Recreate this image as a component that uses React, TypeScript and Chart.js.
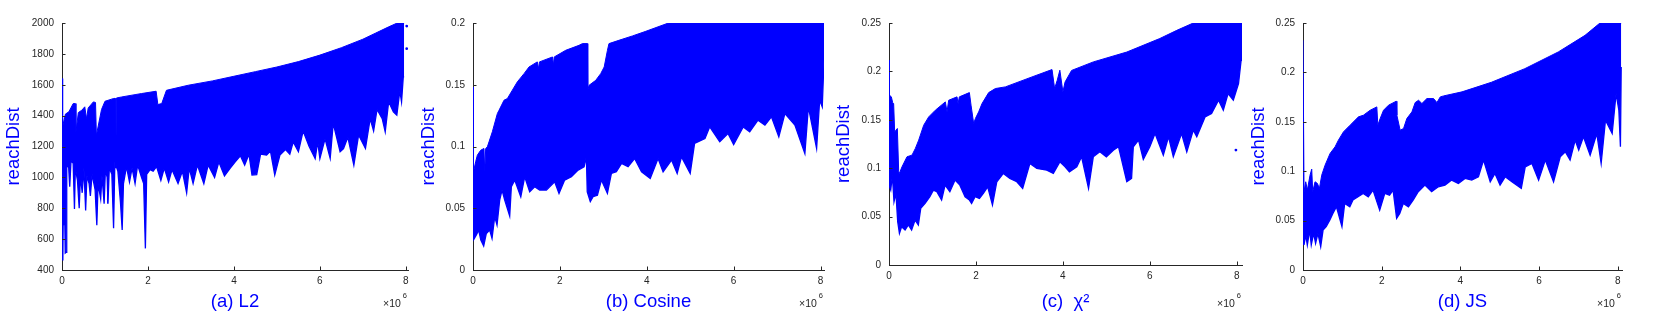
import React, { useEffect, useRef } from 'react';
import { Chart, registerables } from 'chart.js';

Chart.register(...registerables);

const BLUE = '#0000ff';
const INK = '#262626';
const FONT = '"Liberation Sans", Arial, Helvetica, sans-serif';

// x positions are in units of 10^6
const xTicks = [0, 2, 4, 6, 8];
const l2YTicks = [400, 600, 800, 1000, 1200, 1400, 1600, 1800, 2000];
const cosYTicks = [0, 0.05, 0.1, 0.15, 0.2];
const chiYTicks = [0, 0.05, 0.1, 0.15, 0.2, 0.25];
const jsYTicks = [0, 0.05, 0.1, 0.15, 0.2, 0.25];

const l2Upper: [number, number][] = [
  [0, 1640], [0.01, 1640], [0.02, 1330], [0.08, 1410], [0.16, 1425], [0.26, 1478], [0.31, 1478], [0.325, 1295],
  [0.38, 1420], [0.46, 1435], [0.53, 1457], [0.57, 1380], [0.61, 1450], [0.73, 1489], [0.78, 1485], [0.8, 1273],
  [0.92, 1440], [1.0, 1493], [1.19, 1510], [1.235, 1512], [1.25, 1060], [1.265, 1514], [1.39, 1521], [1.7, 1536],
  [1.85, 1543], [2.19, 1558], [2.23, 1472],
  [2.32, 1478], [2.43, 1564], [2.94, 1597], [3.5, 1625], [4.0, 1655], [4.5, 1685], [5, 1715], [5.5, 1750],
  [6, 1792], [6.5, 1840], [7, 1895], [7.3, 1935], [7.6, 1975], [7.8, 2000], [7.96, 2000],
];
const l2Lower: [number, number][] = [
  [0, 465], [0.02, 470], [0.03, 800], [0.045, 690], [0.06, 820], [0.075, 510], [0.095, 515], [0.11, 1060],
  [0.15, 1090], [0.18, 940], [0.21, 1110], [0.26, 1090], [0.29, 795], [0.31, 1060], [0.36, 980], [0.4, 800],
  [0.43, 1010], [0.47, 900], [0.51, 1060], [0.55, 785], [0.58, 1010], [0.63, 960], [0.66, 880], [0.7, 1020],
  [0.77, 920], [0.81, 690], [0.84, 960], [0.9, 860], [0.93, 1010], [0.98, 830], [1.01, 1050], [1.05, 1000],
  [1.07, 830], [1.1, 1060], [1.16, 1020], [1.2, 670], [1.23, 1100], [1.3, 1040], [1.36, 840], [1.4, 660],
  [1.43, 960], [1.5, 1070], [1.57, 970], [1.63, 1060], [1.7, 960], [1.76, 1080], [1.85, 1000], [1.9, 960],
  [1.94, 540], [1.97, 1020], [2.05, 1050], [2.12, 1040], [2.2, 1070], [2.3, 980], [2.38, 1060], [2.48, 970],
  [2.56, 1050], [2.7, 960], [2.8, 1040], [2.9, 900], [2.96, 1060], [3.05, 960], [3.15, 1080], [3.3, 960],
  [3.4, 1080], [3.55, 1000], [3.65, 1100], [3.78, 1010], [3.91, 1058], [4.03, 1100], [4.15, 1140], [4.25, 1080],
  [4.35, 1150], [4.42, 1015], [4.53, 1018], [4.62, 1150], [4.76, 1144], [4.85, 1170], [4.95, 1015], [5.07, 1144],
  [5.2, 1180], [5.3, 1150], [5.38, 1230], [5.5, 1166], [5.61, 1300], [5.75, 1200], [5.89, 1122], [5.95, 1230],
  [6.0, 1122], [6.12, 1250], [6.24, 1122], [6.31, 1350], [6.47, 1166], [6.55, 1187], [6.65, 1260], [6.79, 1079],
  [6.9, 1274], [7.06, 1187], [7.17, 1380], [7.25, 1300], [7.33, 1440], [7.45, 1380], [7.52, 1295], [7.6, 1490],
  [7.71, 1425], [7.79, 1403], [7.86, 1560], [7.9, 1489], [7.94, 1651], [7.96, 1651],
];
const l2Dots: [number, number][] = [[8.02, 1980], [8.02, 1834]];

const cosUpper: [number, number][] = [
  [0, 0.148], [0.008, 0.148], [0.015, 0.0795], [0.061, 0.0876], [0.1, 0.093], [0.177, 0.097], [0.253, 0.0984],
  [0.27, 0.0795], [0.292, 0.0984], [0.33, 0.0997], [0.369, 0.1038], [0.445, 0.1119], [0.561, 0.1267], [0.6, 0.1294],
  [0.714, 0.1375], [0.791, 0.1388], [0.906, 0.1456], [1.02, 0.1523], [1.175, 0.159], [1.29, 0.1644], [1.48, 0.1685],
  [1.51, 0.1631], [1.53, 0.1685], [1.83, 0.1725], [1.85, 0.1658], [1.87, 0.1725], [2.135, 0.1779], [2.44, 0.1819],
  [2.52, 0.1833], [2.634, 0.1833], [2.642, 0.1456], [2.673, 0.1496], [2.826, 0.1536], [2.94, 0.159], [3.02, 0.1644],
  [3.095, 0.1779], [3.13, 0.1833], [3.36, 0.186], [3.67, 0.1895], [3.98, 0.1933], [4.5, 0.2], [8.08, 0.2],
];
const cosLower: [number, number][] = [
  [0, 0.0526], [0.02, 0.0248], [0.077, 0.0283], [0.13, 0.0323], [0.18, 0.0243], [0.246, 0.0194], [0.307, 0.0296],
  [0.384, 0.0323], [0.438, 0.0256], [0.5, 0.0431], [0.553, 0.0364], [0.614, 0.0566], [0.668, 0.0647], [0.73, 0.0566],
  [0.845, 0.0437], [0.883, 0.0674], [0.96, 0.0728], [1.1, 0.0593], [1.19, 0.0755], [1.305, 0.0633], [1.42, 0.0674],
  [1.535, 0.0647], [1.69, 0.0647], [1.88, 0.0714], [1.98, 0.062], [2.11, 0.0728], [2.265, 0.0755], [2.42, 0.0809],
  [2.557, 0.0836], [2.61, 0.0916], [2.63, 0.0633], [2.7, 0.0553], [2.764, 0.0593], [2.864, 0.0606], [2.956, 0.0728],
  [3.094, 0.062], [3.186, 0.0782], [3.3, 0.0795], [3.42, 0.0863], [3.57, 0.0836], [3.72, 0.0903], [3.88, 0.0795],
  [4.08, 0.0741], [4.26, 0.0903], [4.376, 0.0795], [4.57, 0.089], [4.7, 0.0782], [4.8, 0.0916], [5.0, 0.0782],
  [5.1, 0.1024], [5.34, 0.1065], [5.45, 0.1159], [5.68, 0.1038], [5.87, 0.1105], [6.0, 0.1016], [6.22, 0.1159],
  [6.37, 0.1119], [6.56, 0.1213], [6.72, 0.1173], [6.87, 0.124], [7.04, 0.1078], [7.18, 0.1267], [7.41, 0.1173],
  [7.64, 0.0943], [7.72, 0.1321], [7.91, 0.0984], [7.98, 0.1375], [8.04, 0.1321], [8.08, 0.1698],
];
const cosDots: [number, number][] = [];

const chiUpper: [number, number][] = [
  [0, 0.2115], [0.008, 0.2115], [0.015, 0.1754], [0.054, 0.1737], [0.084, 0.1678], [0.107, 0.1668], [0.13, 0.1376],
  [0.161, 0.1393], [0.192, 0.141], [0.223, 0.0963], [0.238, 0.0946], [0.299, 0.1014], [0.414, 0.1118], [0.529, 0.1135],
  [0.606, 0.1204], [0.683, 0.129], [0.798, 0.1444], [0.913, 0.153], [1.066, 0.1599], [1.296, 0.1685], [1.335, 0.1582],
  [1.373, 0.1702], [1.565, 0.1737], [1.588, 0.1668], [1.619, 0.1737], [1.849, 0.1781], [1.887, 0.1651], [1.948, 0.1461],
  [1.987, 0.1513], [2.063, 0.1582], [2.14, 0.1668], [2.293, 0.1781], [2.447, 0.1823], [2.677, 0.184], [3.29, 0.1943],
  [3.75, 0.2019], [3.81, 0.1823], [3.87, 0.1909], [3.93, 0.2012], [4.0, 0.1788], [4.05, 0.1891], [4.2, 0.201],
  [4.7, 0.2098], [5.47, 0.22], [6.23, 0.234], [6.62, 0.2424], [7.0, 0.25], [8.12, 0.25],
];
const chiLower: [number, number][] = [
  [0, 0.0825], [0.04, 0.0774], [0.077, 0.0928], [0.115, 0.0653], [0.16, 0.0739], [0.2, 0.0447], [0.24, 0.0327],
  [0.29, 0.0395], [0.37, 0.0361], [0.445, 0.0413], [0.52, 0.0361], [0.6, 0.0464], [0.675, 0.0413], [0.73, 0.0585],
  [0.83, 0.0636], [0.94, 0.0705], [1.02, 0.0774], [1.1, 0.0757], [1.21, 0.0671], [1.29, 0.0825], [1.4, 0.0757],
  [1.52, 0.0877], [1.63, 0.0825], [1.75, 0.0705], [1.85, 0.0671], [1.9, 0.0636], [1.98, 0.0705], [2.08, 0.0688],
  [2.17, 0.0739], [2.27, 0.0808], [2.38, 0.0619], [2.48, 0.086], [2.63, 0.0946], [2.78, 0.0894], [2.94, 0.086],
  [3.075, 0.0791], [3.24, 0.1049], [3.4, 0.0997], [3.63, 0.098], [3.78, 0.0946], [3.93, 0.1066], [4.05, 0.1014],
  [4.15, 0.0963], [4.32, 0.1014], [4.43, 0.1118], [4.59, 0.0791], [4.7, 0.1118], [4.85, 0.1169], [5.0, 0.1118],
  [5.16, 0.1186], [5.28, 0.1221], [5.47, 0.086], [5.58, 0.0894], [5.62, 0.1221], [5.74, 0.129], [5.85, 0.109],
  [6.0, 0.1221], [6.12, 0.1358], [6.31, 0.1135], [6.43, 0.1324], [6.54, 0.1118], [6.73, 0.1358], [6.85, 0.1169],
  [7.0, 0.1393], [7.08, 0.1324], [7.27, 0.153], [7.42, 0.1565], [7.58, 0.1702], [7.69, 0.1599], [7.8, 0.1771],
  [7.92, 0.1702], [8.04, 0.1874], [8.1, 0.2115], [8.12, 0.2115],
];
const chiDots: [number, number][] = [[7.98, 0.1187]];

const jsUpper: [number, number][] = [
  [0, 0.2325], [0.008, 0.2325], [0.026, 0.0792], [0.069, 0.0893], [0.111, 0.0809], [0.179, 0.096], [0.222, 0.1021],
  [0.247, 0.0792], [0.306, 0.0893], [0.366, 0.0876], [0.417, 0.0825], [0.476, 0.096], [0.561, 0.1061], [0.688, 0.1179],
  [0.816, 0.1247], [0.9, 0.1314], [1.028, 0.1398], [1.198, 0.1466], [1.41, 0.155], [1.537, 0.1567], [1.707, 0.1617],
  [1.877, 0.1651], [1.902, 0.1466], [1.962, 0.1533], [2.047, 0.1617], [2.174, 0.1668], [2.37, 0.1708], [2.386, 0.1567],
  [2.47, 0.1415], [2.556, 0.1432], [2.64, 0.1533], [2.768, 0.16], [2.853, 0.1695], [2.938, 0.1718], [3.023, 0.1685],
  [3.15, 0.1735], [3.32, 0.1735], [3.405, 0.1695], [3.49, 0.1752], [3.575, 0.1762], [4.042, 0.1803], [4.79, 0.19],
  [5.64, 0.2038], [6.49, 0.2207], [7.17, 0.2375], [7.55, 0.25], [8.09, 0.25],
];
const jsLower: [number, number][] = [
  [0, 0.0303], [0.025, 0.0253], [0.07, 0.0354], [0.11, 0.0253], [0.17, 0.0404], [0.21, 0.0253], [0.27, 0.0371],
  [0.32, 0.027], [0.38, 0.0371], [0.45, 0.0236], [0.51, 0.0404], [0.59, 0.0438], [0.68, 0.0505], [0.76, 0.0573],
  [0.85, 0.064], [0.99, 0.0438], [1.06, 0.0674], [1.19, 0.064], [1.27, 0.0708], [1.4, 0.0741], [1.53, 0.0775],
  [1.66, 0.0741], [1.78, 0.0809], [1.95, 0.0606], [2.08, 0.0775], [2.2, 0.0758], [2.29, 0.0809], [2.38, 0.0522],
  [2.46, 0.0573], [2.55, 0.0674], [2.68, 0.064], [2.8, 0.0708], [2.93, 0.0792], [3.1, 0.0859], [3.27, 0.0792],
  [3.44, 0.0842], [3.61, 0.0859], [3.78, 0.091], [3.95, 0.0876], [4.12, 0.0927], [4.29, 0.091], [4.46, 0.0943],
  [4.59, 0.1112], [4.76, 0.0893], [4.88, 0.0977], [5.01, 0.0859], [5.14, 0.0943], [5.31, 0.0893], [5.55, 0.0825],
  [5.65, 0.1044], [5.82, 0.1078], [5.99, 0.091], [6.16, 0.1112], [6.37, 0.0893], [6.54, 0.1146], [6.67, 0.1196],
  [6.79, 0.1112], [6.92, 0.1314], [7.01, 0.1213], [7.13, 0.1348], [7.3, 0.1162], [7.47, 0.1381], [7.58, 0.1078],
  [7.69, 0.1516], [7.86, 0.1381], [7.96, 0.1786], [8.03, 0.1617], [8.07, 0.1247], [8.09, 0.2055],
];
const jsDots: [number, number][] = [];

type Panel = {
  title: string;
  yTicks: number[];
  xMax: number;
  upper: [number, number][];
  lower: [number, number][];
  dots: [number, number][];
  left: number;
  width: number;
  yAxisW: number;
  padRight: number;
  padTop: number;
  xAxisH: number;
};

const panels: Panel[] = [
  { title: '(a) L2', yTicks: l2YTicks, xMax: 8.05, upper: l2Upper, lower: l2Lower, dots: l2Dots,
    left: 0, width: 420, yAxisW: 62, padRight: 12, padTop: 23, xAxisH: 45 },
  { title: '(b) Cosine', yTicks: cosYTicks, xMax: 8.08, upper: cosUpper, lower: cosLower, dots: cosDots,
    left: 415, width: 420, yAxisW: 58, padRight: 11, padTop: 23, xAxisH: 45 },
  { title: '(c)  \u03c7\u00b2', yTicks: chiYTicks, xMax: 8.12, upper: chiUpper, lower: chiLower, dots: chiDots,
    left: 830, width: 420, yAxisW: 59, padRight: 8, padTop: 23, xAxisH: 50 },
  { title: '(d) JS', yTicks: jsYTicks, xMax: 8.11, upper: jsUpper, lower: jsLower, dots: jsDots,
    left: 1245, width: 416, yAxisW: 58, padRight: 39, padTop: 23, xAxisH: 45 },
];

const decor = {
  id: 'decor',
  afterDraw(chart: any) {
    const { ctx, chartArea, scales } = chart;
    const x = scales.x;
    const y = scales.y;
    ctx.save();
    ctx.strokeStyle = INK;
    ctx.lineWidth = 1;
    ctx.beginPath();
    for (const t of x.ticks) {
      const px = Math.round(x.getPixelForValue(t.value)) + 0.5;
      ctx.moveTo(px, chartArea.bottom);
      ctx.lineTo(px, chartArea.bottom - 3.5);
    }
    for (const t of y.ticks) {
      const py = Math.round(y.getPixelForValue(t.value)) + 0.5;
      ctx.moveTo(chartArea.left, py);
      ctx.lineTo(chartArea.left + 3.5, py);
    }
    ctx.stroke();
    ctx.fillStyle = INK;
    ctx.textBaseline = 'alphabetic';
    ctx.textAlign = 'right';
    const rx = chartArea.right - 1;
    ctx.font = `7.5px ${FONT}`;
    ctx.fillText('6', rx, chart.height - 17.3);
    const w6 = ctx.measureText('6').width;
    ctx.font = `10.5px ${FONT}`;
    ctx.fillText('\u00d710', rx - w6 - 2, chart.height - 8.2);
    ctx.restore();
  },
};

function PanelChart({ p }: { p: Panel }) {
  const ref = useRef<HTMLCanvasElement>(null);
  useEffect(() => {
    const canvas = ref.current;
    if (!canvas) return;
    const pts = (a: [number, number][]) => a.map(([x, y]) => ({ x, y }));
    const chart = new Chart(canvas, {
      type: 'line',
      data: {
        datasets: [
          { data: pts(p.upper), borderColor: BLUE, backgroundColor: BLUE, borderWidth: 1, pointRadius: 0, fill: '+1', tension: 0 } as any,
          { data: pts(p.lower), borderColor: BLUE, backgroundColor: BLUE, borderWidth: 1.3, pointRadius: 0, fill: false, tension: 0 } as any,
          { data: pts(p.dots), borderColor: BLUE, backgroundColor: BLUE, showLine: false, pointRadius: 1.4, pointBorderWidth: 0, fill: false } as any,
        ],
      },
      options: {
        responsive: false,
        animation: false,
        devicePixelRatio: 1,
        events: [],
        layout: { padding: { left: 0, right: p.padRight, top: p.padTop, bottom: 0 } },
        plugins: { legend: { display: false }, tooltip: { enabled: false } },
        scales: {
          x: {
            type: 'linear',
            min: 0,
            max: p.xMax,
            afterBuildTicks: (s: any) => { s.ticks = xTicks.map((v) => ({ value: v })); },
            afterFit: (s: any) => { s.height = p.xAxisH; },
            grid: { drawOnChartArea: false, drawTicks: false, color: INK },
            border: { color: INK, width: 1 },
            ticks: { color: INK, font: { family: FONT, size: 10 }, padding: 5, maxRotation: 0, autoSkip: false, callback: (v: any) => String(v) },
            title: { display: true, text: p.title, color: BLUE, font: { family: FONT, size: 18.5 }, padding: { top: 0, bottom: 1.5 } },
          },
          y: {
            type: 'linear',
            min: p.yTicks[0],
            max: p.yTicks[p.yTicks.length - 1],
            afterBuildTicks: (s: any) => { s.ticks = p.yTicks.map((v) => ({ value: v })); },
            afterFit: (s: any) => { s.width = p.yAxisW; },
            grid: { drawOnChartArea: false, drawTicks: false, color: INK },
            border: { color: INK, width: 1 },
            ticks: { color: INK, font: { family: FONT, size: 10 }, padding: 8, autoSkip: false, callback: (v: any) => String(v) },
            title: { display: true, text: 'reachDist', color: BLUE, font: { family: FONT, size: 18.5 }, padding: { top: 2.5, bottom: 0 } },
          },
        },
      } as any,
      plugins: [decor],
    });
    return () => chart.destroy();
  }, [p]);
  return (
    <canvas
      ref={ref}
      width={p.width}
      height={315}
      style={{ position: 'absolute', left: p.left, top: 0, width: p.width, height: 315, display: 'block' }}
    />
  );
}

export default function App() {
  return (
    <div style={{ position: 'fixed', left: 0, top: 0, width: 1661, height: 315, background: '#ffffff', overflow: 'hidden' }}>
      {panels.map((p, i) => (
        <PanelChart key={i} p={p} />
      ))}
    </div>
  );
}
